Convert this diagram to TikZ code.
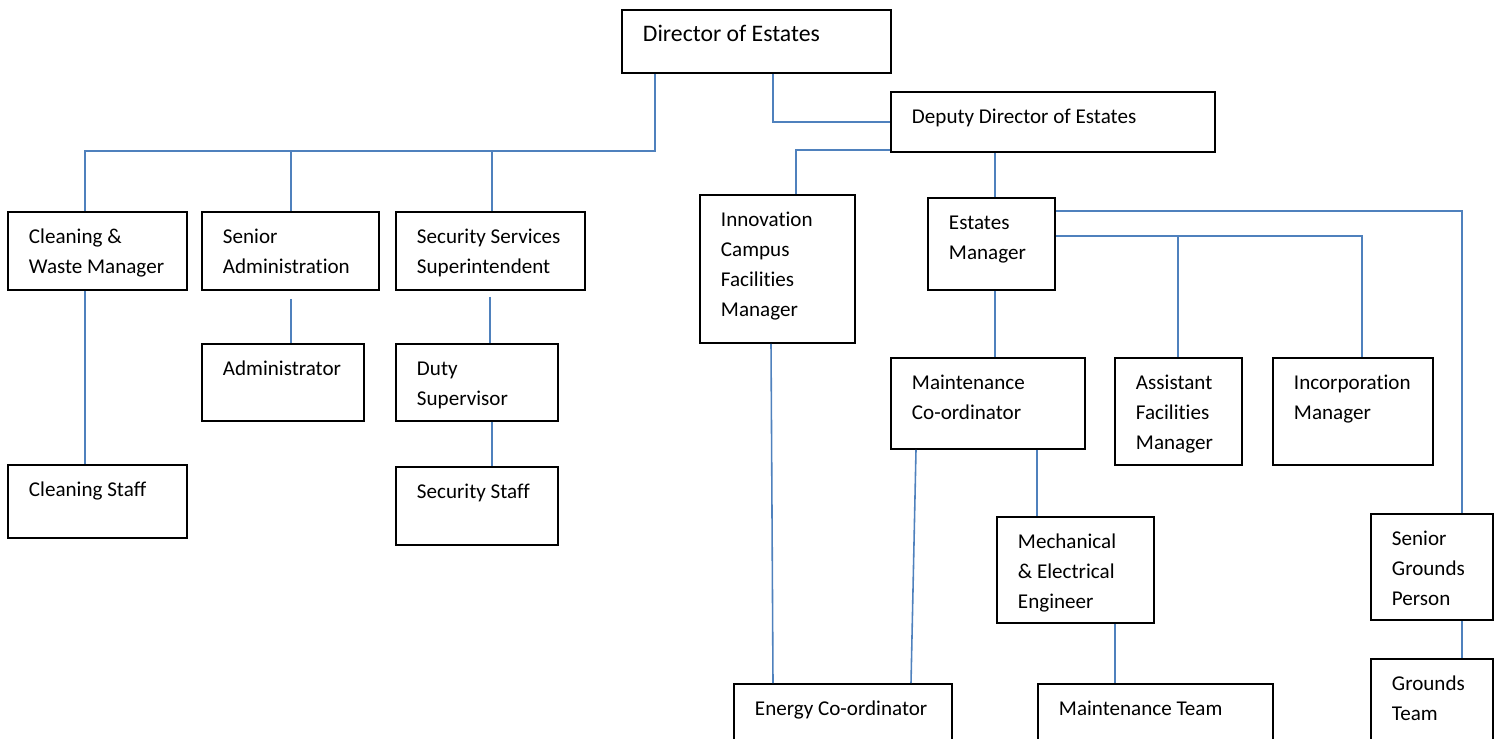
\documentclass[tikz,border=0pt]{standalone}
\usepackage{xcolor}
\usepackage{fontspec}
\setmainfont{Carlito}[Ligatures=NoCommon]
\newdimen\px \px=0.02cm
\newcommand{\boxfont}{\fontsize{12}{17.07}\selectfont}
\newcommand{\headfont}{\fontsize{13.5}{17.07}\selectfont}
\hyphenpenalty=10000
\exhyphenpenalty=10000
\definecolor{linkblue}{HTML}{4F81BD}

\begin{document}
\begin{tikzpicture}[x=1\px, y=-1\px]
\tikzstyle{box} = [rectangle, draw=black, line width=1.1pt, anchor=north west, align=flush left, inner sep=0pt, text height=32\px, font=\boxfont, execute at begin node={\leftskip=21\px}]
\tikzstyle{link} = [draw=linkblue, line width=0.9pt]

\useasboundingbox (0,0) rectangle (1497,738);
\clip (0,0) rectangle (1497,738);

\node(director) [box, font=\headfont, text width=269\px, text depth=31\px] at (621,9) {Director of Estates};
\node(deputy) [box, text width=324\px, text depth=28\px] at (890,91) {Deputy Director of Estates};
\node(cleaning) [box, text width=179\px, text depth=46\px] at (7,211) {Cleaning \&\\Waste Manager};
\node(senior) [box, text width=177\px, text depth=46\px] at (201,211) {Senior\\Administration};
\node(security) [box, text width=189\px, text depth=46\px] at (395,211) {Security Services\\Superintendent};
\node(administrator) [box, text width=162\px, text depth=45\px] at (201,343) {Administrator};
\node(duty) [box, text width=162\px, text depth=45\px] at (395,343) {Duty\\Supervisor};
\node(cleaningstaff) [box, text width=179\px, text depth=41\px] at (7,464) {Cleaning Staff};
\node(securitystaff) [box, text width=162\px, text depth=46\px] at (395,466) {Security Staff};
\node(innovation) [box, text width=155\px, text depth=116\px] at (699,194) {Innovation\\Campus\\Facilities\\Manager};
\node(estates) [box, text width=127\px, text depth=60\px] at (927,197) {Estates\\Manager};
\node(maintco) [box, text width=194\px, text depth=59\px] at (890,357) {Maintenance\\Co-ordinator};
\node(assistant) [box, text width=127\px, text depth=75\px] at (1114,357) {Assistant\\Facilities\\Manager};
\node(incorporation) [box, text width=160\px, text depth=75\px] at (1272,357) {Incorporation\\Manager};
\node(mechanical) [box, text width=157\px, text depth=74\px] at (996,516) {Mechanical\\\& Electrical\\Engineer};
\node(groundsperson) [box, text width=122\px, text depth=74\px] at (1370,513) {Senior\\Grounds\\Person};
\node(energy) [box, text width=218\px, text depth=60\px] at (733,683) {Energy Co-ordinator};
\node(maintteam) [box, text width=235\px, text depth=60\px] at (1037,683) {Maintenance Team};
\node(groundsteam) [box, text width=122\px, text depth=70\px] at (1370,658) {Grounds\\Team};

\coordinate (bus) at (655,151);
\draw[link] ([xshift=34\px]director.south west) -- (bus) -| ([xshift=78\px]cleaning.north west);
\draw[link] ([xshift=90\px]senior.north west) |- (bus);
\draw[link] ([xshift=97\px]security.north west) |- (bus);
\draw[link] ([xshift=152\px]director.south west) |- (deputy.west);
\draw[link] ([yshift=3\px]deputy.south west) -| ([xshift=97\px]innovation.north west);
\draw[link] ([xshift=105\px]deputy.south west) -- ([xshift=68\px]estates.north west);
\draw[link] ([yshift=-14\px]estates.north east) -| ([xshift=92\px]groundsperson.north west);
\draw[link] ([yshift=-39\px]estates.north east) -| ([xshift=90\px]incorporation.north west);
\draw[link] ([xshift=64\px]assistant.north west) |- ([yshift=-39\px]estates.north east);
\draw[link] ([xshift=68\px]estates.south west) -- ([xshift=105\px]maintco.north west);
\draw[link] ([xshift=78\px]cleaning.south west) -- ([xshift=78\px]cleaningstaff.north west);
\draw[link] ([xshift=90\px, yshift=-8\px]senior.south west) -- ([xshift=90\px]administrator.north west);
\draw[link] ([xshift=95\px, yshift=-6\px]security.south west) -- ([xshift=95\px]duty.north west);
\draw[link] ([xshift=97\px]duty.south west) -- ([xshift=97\px]securitystaff.north west);
\draw[link] ([xshift=72\px]innovation.south west) -- ([xshift=40\px]energy.north west);
\draw[link] ([xshift=26\px]maintco.south west) -- ([xshift=178\px]energy.north west);
\draw[link] ([xshift=147\px]maintco.south west) -- ([xshift=41\px]mechanical.north west);
\draw[link] ([xshift=119\px]mechanical.south west) -- ([xshift=78\px]maintteam.north west);
\draw[link] ([xshift=92\px]groundsperson.south west) -- ([xshift=92\px]groundsteam.north west);
\end{tikzpicture}
\end{document}
